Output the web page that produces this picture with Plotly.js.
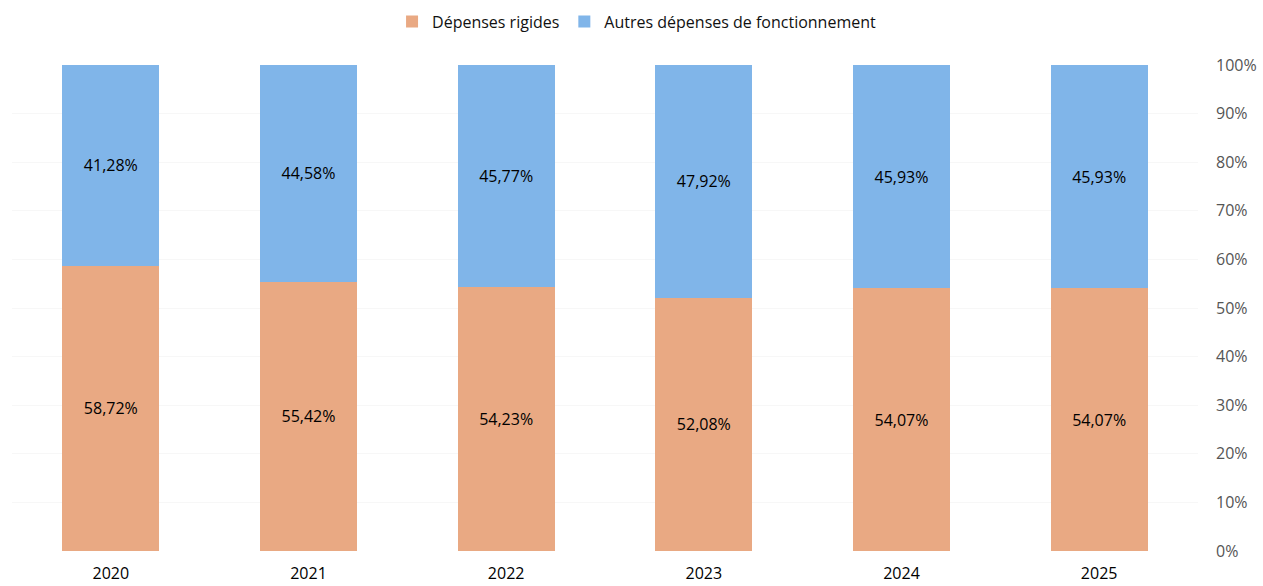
<!DOCTYPE html>
<html>
<head>
<meta charset="utf-8">
<script src="https://cdn.plot.ly/plotly-3.0.1.min.js"></script>
<style>
  html, body { margin: 0; padding: 0; background: #fff; }
  #chart { width: 1263px; height: 586px; }
</style>
</head>
<body>
<div id="chart"></div>
<script>
// Part des dépenses par année (en %)
const years = ['2020', '2021', '2022', '2023', '2024', '2025'];
const depensesRigides = [58.72, 55.42, 54.23, 52.08, 54.07, 54.07];
const autresDepenses = [41.28, 44.58, 45.77, 47.92, 45.93, 45.93];
const yTicks = [0, 10, 20, 30, 40, 50, 60, 70, 80, 90, 100];

const fmt = v => v.toFixed(2).replace('.', ',') + '%';

const traceRigides = {
    x: years,
    y: depensesRigides,
    type: 'bar',
    name: 'Dépenses rigides',
    marker: { color: '#E9A983' },
    text: depensesRigides.map(fmt),
    textposition: 'inside',
    insidetextanchor: 'middle',
    textfont: { color: '#000', size: 16 },
    hoverinfo: 'skip'
};

const traceAutres = {
    x: years,
    y: autresDepenses,
    type: 'bar',
    name: 'Autres dépenses de fonctionnement',
    marker: { color: '#80B5E9' },
    text: autresDepenses.map(fmt),
    textposition: 'inside',
    insidetextanchor: 'middle',
    textfont: { color: '#000', size: 16 },
    hoverinfo: 'skip'
};

const layout = {
    barmode: 'stack',
    bargap: 0.51,
    width: 1263,
    height: 586,
    margin: { t: 65, r: 65, b: 35, l: 12 },
    paper_bgcolor: '#fff',
    plot_bgcolor: '#fff',
    font: { family: 'Open Sans, Liberation Sans, sans-serif', color: '#222', size: 15 },
    showlegend: true,
    legend: {
        orientation: 'h',
        xref: 'container',
        yref: 'container',
        x: 0.504,
        xanchor: 'center',
        y: 0.963,
        yanchor: 'middle',
        font: { size: 16, color: '#111' },
        traceorder: 'normal'
    },
    xaxis: {
        type: 'category',
        tickfont: { size: 16, color: '#000' },
        ticklabelstandoff: 11,
        showline: false,
        zeroline: false
    },
    yaxis: {
        side: 'right',
        range: [0, 100],
        tickvals: yTicks,
        ticktext: yTicks.map(v => v + '%'),
        tickfont: { size: 16, color: '#555' },
        ticklabelstandoff: 17,
        showgrid: true,
        gridcolor: '#f7f7f7',
        zeroline: false,
        showline: false
    }
};

Plotly.newPlot('chart', [traceRigides, traceAutres], layout, { displayModeBar: false, staticPlot: true });
</script>
</body>
</html>
